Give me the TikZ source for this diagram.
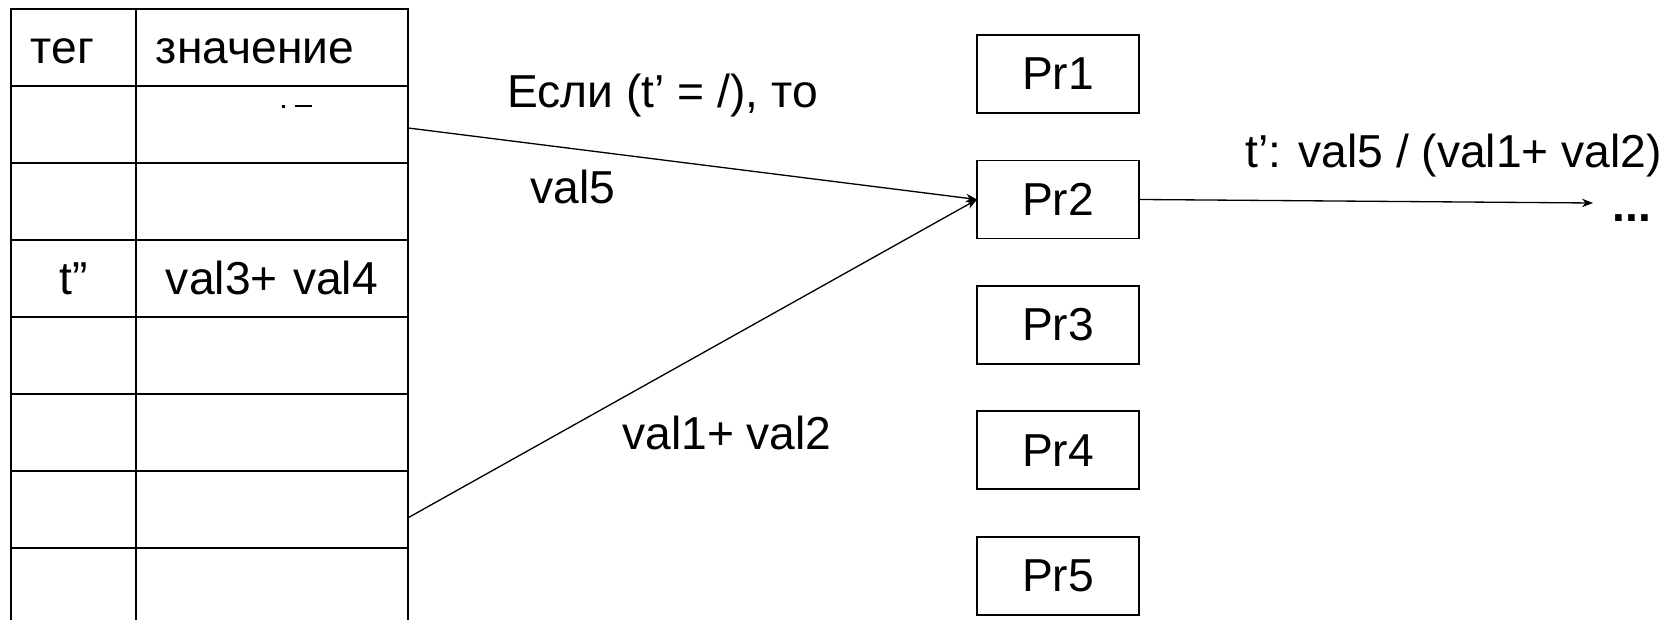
\documentclass[tikz,border=0pt]{standalone}
\usepackage{fontspec}
\setmainfont{Liberation Sans}
\usetikzlibrary{arrows.meta,positioning,matrix,calc}

\tikzset{
  procbox/.style={rectangle,draw=black,line width=1.1pt,minimum width=3.24cm,
                  minimum height=1.56cm,inner sep=0pt,outer sep=0pt},
  flow/.style={line width=0.75pt,-{Stealth[length=0.22cm,width=0.17cm,inset=0.07cm]}},
  lbl/.style={anchor=base west,inner sep=0pt},
}

\begin{document}
\begin{tikzpicture}[x=0.02cm,y=-0.02cm,font=\fontsize{26.3}{32}\selectfont]
\useasboundingbox (0,0) rectangle (1666,619);

% tag / value table
\matrix [matrix of nodes, anchor=north west, inner sep=0pt, outer sep=0pt, line width=1.1pt,
         row sep=-\pgflinewidth, column sep=-\pgflinewidth,
         nodes={rectangle,draw=black,inner xsep=0.4cm,inner ysep=0pt,outer sep=0pt,
                minimum height=1.54cm,text height=0.64cm,text depth=0pt,align=center},
         column 1/.style = {text width=1.7cm},
         column 2/.style = {text width=4.64cm},
         nodes in empty cells, ampersand replacement=\&] (tbl) at (10,8) {
|[align=left]| тег \& |[align=left]| значение \\
 \& \\
 \& \\
t” \& val3+ val4 \\
 \& \\
 \& \\
 \& \\
 \& \\
};
% stray marks in row 2
\fill (281.5,104.5) rectangle (284.5,107.5);
\draw[line width=0.03cm] (295,106) -- (312,106);

% processors
\node[procbox] (pr1) at (1058,74) {Pr1};
\node[procbox, below=0.95cm of pr1] (pr2) {Pr2};
\node[procbox, below=0.95cm of pr2] (pr3) {Pr3};
\node[procbox, below=0.95cm of pr3] (pr4) {Pr4};
\node[procbox, below=0.95cm of pr4] (pr5) {Pr5};

% operands into Pr2, result out
\draw[flow] ([yshift=-0.07cm]tbl-2-2.east) -- (pr2.west);
\draw[flow] ([yshift=-0.17cm]tbl-7-2.east) -- (pr2.west);
\coordinate (outend) at (1593,203);
\draw[flow] (pr2.east) -- (outend);

\node[lbl] (cond) at (507,107) {Если (t’ = /), то};
\node[lbl] (opa) at (530,203) {val5};
\node[lbl] (opb) at (622,449) {val1+ val2};
\node[lbl] (res) at (1245,167) {t’: val5 / (val1+ val2)};
\node[lbl] (more) at (1612,221) {\bfseries ...};
\end{tikzpicture}
\end{document}
